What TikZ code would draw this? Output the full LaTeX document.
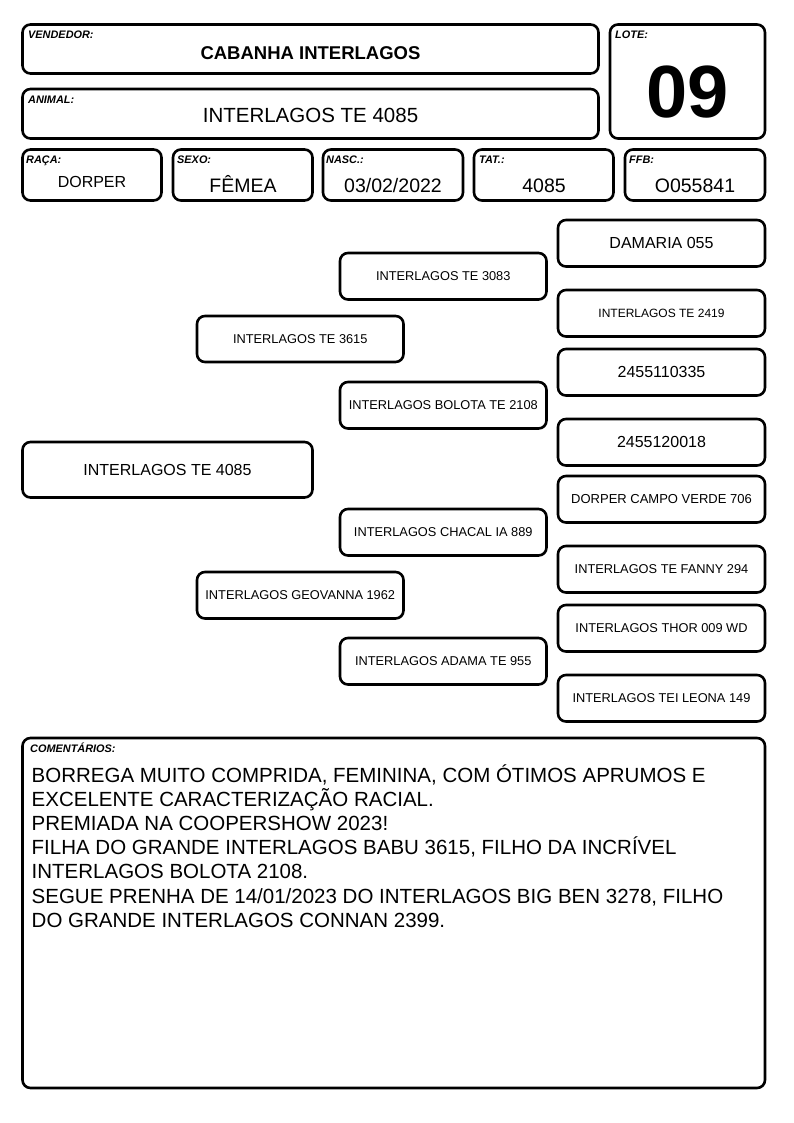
\documentclass[tikz,border=0pt]{standalone}
\usepackage{fontspec}
\setmainfont{Liberation Sans}
\newcommand\fs[1]{\fontsize{#1}{#1}\selectfont}
\tikzset{
  box/.style={draw=black, line width=2.6pt, rounded corners=8pt, inner sep=0pt, align=center},
  lab/.style={anchor=base west, inner sep=0pt, font=\fs{10.9}\bfseries\itshape},
  val/.style={anchor=base, inner sep=0pt},
  cline/.style={anchor=base west, inner sep=0pt, font=\fs{20.5}},
}
\newcommand\bx[7]{\node[box, minimum width={(#4)-(#2)}, minimum height={(#5)-(#3)}, font={#6}] (#1) at ({((#2)+(#4))/2},{((#3)+(#5))/2}) {#7};}
\begin{document}
\begin{tikzpicture}[x=1pt,y=-1pt]
\useasboundingbox[fill=white] (0,0) rectangle (794,1123);
% header boxes
\bx{vend}{22.5}{24.5}{598.5}{73.5}{}{}
\bx{anim}{22.5}{89}{598.5}{138.5}{}{}
\bx{lote}{610}{24.5}{765}{138.5}{}{}
\bx{raca}{22.5}{149.5}{161.5}{200.5}{}{}
\bx{sexo}{173}{149.5}{312.5}{200.5}{}{}
\bx{nasc}{323}{149.5}{463}{200.5}{}{}
\bx{tat}{474}{149.5}{613.5}{200.5}{}{}
\bx{ffb}{625}{149.5}{765}{200.5}{}{}
% labels
\node[lab] (vendl) at (28,38.5) {VENDEDOR:};
\node[lab] (animl) at (28,103.5) {ANIMAL:};
\node[lab] (lotel) at (615,38.5) {LOTE:};
\node[lab] (racal) at (26,163.5) {RAÇA:};
\node[lab] (sexol) at (177,163.5) {SEXO:};
\node[lab] (nascl) at (326,163.5) {NASC.:};
\node[lab] (tatl) at (479,163.5) {TAT.:};
\node[lab] (ffbl) at (629,163.5) {FFB:};
% values
\node[val, font=\fs{18.5}\bfseries] (vendv) at (310.5,60) {CABANHA INTERLAGOS};
\node[val, font=\fs{20.5}] (animv) at (310.5,123) {INTERLAGOS TE 4085};
\node[val, font=\fs{74}\bfseries] (lotev) at (687.5,118) {09};
\node[val, font=\fs{16}] (racav) at (92,188) {DORPER};
\node[val, font=\fs{19.5}] (sexov) at (243,193) {FÊMEA};
\node[val, font=\fs{19.5}] (nascv) at (393,193) {03/02/2022};
\node[val, font=\fs{19.5}] (tatv) at (544,193) {4085};
\node[val, font=\fs{19.5}] (ffbv) at (695,193) {O055841};
% pedigree
\bx{a0}{22.5}{442}{312.5}{497.5}{\fs{16}}{INTERLAGOS TE 4085}
\bx{s}{197}{316}{403.5}{362}{\fs{12.8}}{INTERLAGOS TE 3615}
\bx{d}{197}{572}{403.5}{618.5}{\fs{12.8}}{INTERLAGOS GEOVANNA 1962}
\bx{ss}{340}{253}{546.5}{299.5}{\fs{12.8}}{INTERLAGOS TE 3083}
\bx{sd}{340}{382}{546.5}{428.5}{\fs{12.8}}{INTERLAGOS BOLOTA TE 2108}
\bx{ds}{340}{509}{546.5}{555.5}{\fs{12.8}}{INTERLAGOS CHACAL IA 889}
\bx{dd}{340}{638}{546.5}{684.5}{\fs{12.8}}{INTERLAGOS ADAMA TE 955}
\bx{sss}{558}{220}{765}{266.5}{\fs{16}}{DAMARIA 055}
\bx{ssd}{558}{290}{765}{336.5}{\fs{12}}{INTERLAGOS TE 2419}
\bx{sds}{558}{349}{765}{395.5}{\fs{16}}{2455110335}
\bx{sdd}{558}{419}{765}{465.5}{\fs{16}}{2455120018}
\bx{dss}{558}{476}{765}{522.5}{\fs{13}}{DORPER CAMPO VERDE 706}
\bx{dsd}{558}{546}{765}{592.5}{\fs{12.8}}{INTERLAGOS TE FANNY 294}
\bx{dds}{558}{605}{765}{651.5}{\fs{12.8}}{INTERLAGOS THOR 009 WD}
\bx{ddd}{558}{675}{765}{721.5}{\fs{12.8}}{INTERLAGOS TEI LEONA 149}
% comments
\bx{com}{22.5}{738}{765}{1088}{}{}
\node[lab] (coml) at (30,752.5) {COMENTÁRIOS:};
\node[cline] (c1) at (31.5,782) {BORREGA MUITO COMPRIDA, FEMININA, COM ÓTIMOS APRUMOS E};
\node[cline] (c2) at (31.5,806.2) {EXCELENTE CARACTERIZAÇÃO RACIAL.};
\node[cline] (c3) at (31.5,830.4) {PREMIADA NA COOPERSHOW 2023!};
\node[cline] (c4) at (31.5,854.6) {FILHA DO GRANDE INTERLAGOS BABU 3615, FILHO DA INCRÍVEL};
\node[cline] (c5) at (31.5,878.8) {INTERLAGOS BOLOTA 2108.};
\node[cline] (c6) at (31.5,903) {SEGUE PRENHA DE 14/01/2023 DO INTERLAGOS BIG BEN 3278, FILHO};
\node[cline] (c7) at (31.5,927.2) {DO GRANDE INTERLAGOS CONNAN 2399.};
\end{tikzpicture}
\end{document}
